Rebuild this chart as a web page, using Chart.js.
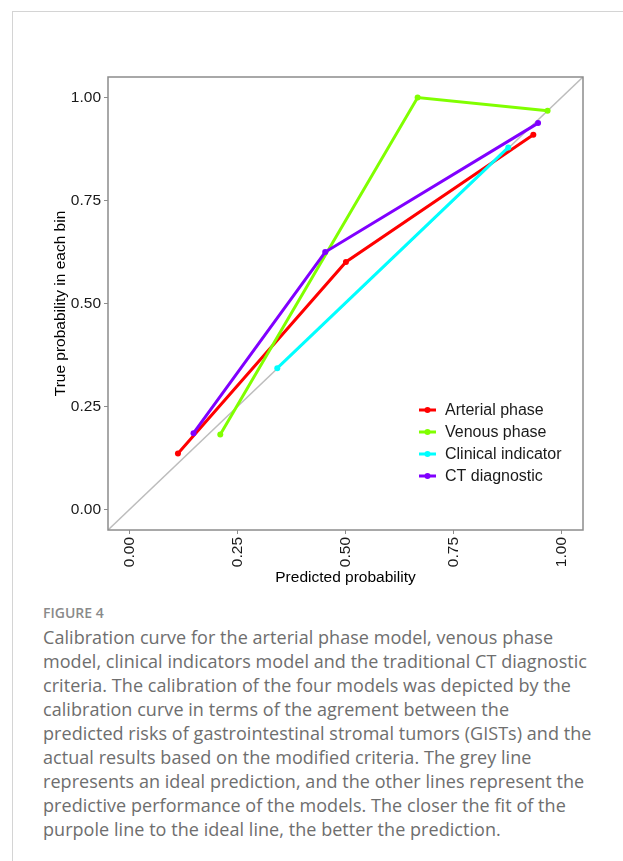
<!DOCTYPE html>
<html>
<head>
<meta charset="utf-8">
<script src="https://cdn.jsdelivr.net/npm/chart.js@4.4.1/dist/chart.umd.min.js"></script>
<style>
  body { margin: 0; background: #fff; width: 623px; height: 861px; position: relative; overflow: hidden; }
  .frame-top { position: absolute; left: 12px; top: 11px; width: 611px; height: 1px; background: #d4d4d4; }
  .frame-left { position: absolute; left: 12px; top: 11px; width: 1px; height: 850px; background: #d4d4d4; }
  #wrap { position: absolute; left: 0; top: 0; width: 623px; height: 600px; }
  .fig { position: absolute; left: 43px; top: 603px; font-family: "Open Sans", sans-serif; font-size: 14px; font-weight: 600; color: #8a8a8a; }
  .cap { position: absolute; left: 43px; top: 625px; font-family: "Open Sans", sans-serif; font-size: 18px; line-height: 24px; color: #6e6e6e; white-space: nowrap; letter-spacing: 0.05px; }
</style>
</head>
<body>
<div class="frame-top"></div>
<div class="frame-left"></div>
<div id="wrap"><canvas id="mycanvas" width="623" height="600"></canvas></div>
<div class="fig">FIGURE 4</div>
<div class="cap">Calibration curve for the arterial phase model, venous phase<br>model, clinical indicators model and the traditional CT diagnostic<br>criteria. The calibration of the four models was depicted by the<br>calibration curve in terms of the agrement between the<br>predicted risks of gastrointestinal stromal tumors (GISTs) and the<br>actual results based on the modified criteria. The grey line<br>represents an ideal prediction, and the other lines represent the<br>predictive performance of the models. The closer the fit of the<br>purpole line to the ideal line, the better the prediction.</div>
<script>
var models = ['Arterial phase', 'Venous phase', 'Clinical indicator', 'CT diagnostic'];
var colors = ['#ff0000', '#80ff00', '#00ffff', '#8000ff'];

var arterialX = [0.112, 0.501, 0.935];
var arterialY = [0.136, 0.601, 0.910];
var venousX = [0.210, 0.667, 0.968];
var venousY = [0.182, 1.000, 0.968];
var clinicalX = [0.342, 0.877];
var clinicalY = [0.343, 0.879];
var ctX = [0.148, 0.453, 0.946];
var ctY = [0.185, 0.625, 0.938];

var idealX = [-0.05, 1.05];
var idealY = [-0.05, 1.05];

var tickVals = [0, 0.25, 0.5, 0.75, 1];

function pts(xs, ys) {
	var out = [];
	for (var i = 0; i < xs.length; i++) out.push({x: xs[i], y: ys[i]});
	return out;
}

var seriesX = [arterialX, venousX, clinicalX, ctX];
var seriesY = [arterialY, venousY, clinicalY, ctY];

var datasets = [];
for (var i = 0; i < models.length; i++) {
	datasets.push({
		label: models[i],
		data: pts(seriesX[i], seriesY[i]),
		showLine: true,
		borderColor: colors[i],
		backgroundColor: colors[i],
		borderWidth: 3,
		pointRadius: 3,
		pointBorderWidth: 0,
		order: models.length - i
	});
}
datasets.push({
	label: 'Ideal',
	data: pts(idealX, idealY),
	showLine: true,
	borderColor: '#bdbdbd',
	borderWidth: 1.5,
	pointRadius: 0,
	order: 10
});

// grey box round the panel
var boxPlugin = {
	id: 'box',
	afterDatasetsDraw: function(chart) {
		var a = chart.chartArea, c = chart.ctx;
		c.save();
		c.strokeStyle = '#8c8c8c';
		c.lineWidth = 1.5;
		c.strokeRect(a.left, a.top, a.right - a.left, a.bottom - a.top);
		c.restore();
	}
};

// legend inside the panel, ggplot style
var legendPlugin = {
	id: 'innerLegend',
	afterDraw: function(chart) {
		var a = chart.chartArea, c = chart.ctx;
		var x0 = a.right - 164, y0 = a.bottom - 120;
		c.save();
		c.font = '16px "Liberation Sans", Arial, sans-serif';
		c.textBaseline = 'middle';
		for (var i = 0; i < models.length; i++) {
			var ds = chart.data.datasets[i];
			var y = y0 + i * 22;
			c.strokeStyle = ds.borderColor;
			c.lineWidth = 3;
			c.beginPath();
			c.moveTo(x0, y);
			c.lineTo(x0 + 17, y);
			c.stroke();
			c.fillStyle = ds.borderColor;
			c.beginPath();
			c.arc(x0 + 8.5, y, 3, 0, Math.PI * 2);
			c.fill();
			c.fillStyle = '#1a1a1a';
			c.fillText(ds.label, x0 + 26, y + 1);
		}
		c.restore();
	}
};

var tickFont = {family: '"Liberation Sans", Arial, sans-serif', size: 15.5};

var ctx = document.getElementById('mycanvas');
var calChart = new Chart(ctx, {
	type: 'scatter',
	data: {datasets: datasets},
	plugins: [boxPlugin, legendPlugin],
	options: {
		responsive: false,
		animation: false,
		layout: {padding: {left: 51, top: 77, right: 40, bottom: 13}},
		plugins: {legend: {display: false}, tooltip: {enabled: false}},
		scales: {
			x: {
				type: 'linear',
				min: -0.05,
				max: 1.05,
				afterBuildTicks: function(s) { s.ticks = tickVals.map(function(v) { return {value: v}; }); },
				afterFit: function(s) { s.height = 57; },
				ticks: {
					color: '#1a1a1a',
					font: tickFont,
					padding: 3,
					minRotation: 90,
					maxRotation: 90,
					callback: function(v) { return v.toFixed(2); }
				},
				grid: {drawOnChartArea: false, drawTicks: true, tickLength: 4, color: '#8c8c8c'},
				border: {display: false},
				title: {display: true, text: 'Predicted probability', color: '#000', font: tickFont, padding: 0}
			},
			y: {
				type: 'linear',
				min: -0.05,
				max: 1.05,
				afterBuildTicks: function(s) { s.ticks = tickVals.map(function(v) { return {value: v}; }); },
				afterFit: function(s) { s.width = 57; },
				ticks: {
					color: '#1a1a1a',
					font: tickFont,
					padding: 3,
					callback: function(v) { return v.toFixed(2); }
				},
				grid: {drawOnChartArea: false, drawTicks: true, tickLength: 4, color: '#8c8c8c'},
				border: {display: false},
				title: {display: true, text: 'True probability in each bin', color: '#000', font: tickFont, padding: 0}
			}
		}
	}
});
</script>
</body>
</html>
